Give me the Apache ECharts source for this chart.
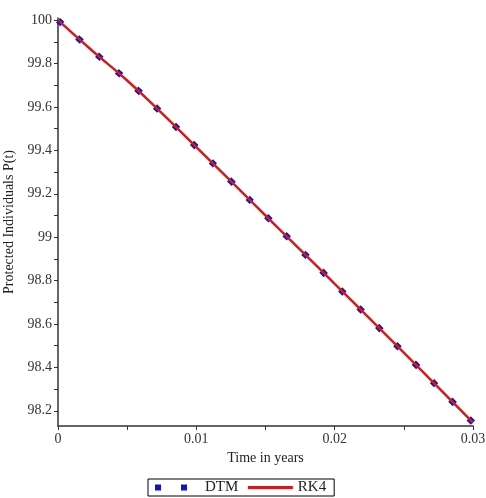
<!DOCTYPE html>
<html>
<head>
<meta charset="utf-8">
<script src="https://cdn.jsdelivr.net/npm/echarts@6/dist/echarts.min.js"></script>
<style>
  html, body { margin: 0; padding: 0; background: #fff; }
  #chart { width: 486px; height: 498px; }
</style>
</head>
<body>
<div id="chart"></div>
<script>
// time (years) and protected individuals P(t)
var times = [0, 0.0025, 0.005, 0.0075, 0.01, 0.0125, 0.015, 0.0175, 0.02, 0.0225, 0.025, 0.0275, 0.03];
var dtmValues = [100, 99.858, 99.722, 99.572, 99.415, 99.258, 99.100, 98.943, 98.785, 98.627, 98.468, 98.307, 98.145];
var rk4Values = [100, 99.858, 99.722, 99.572, 99.415, 99.258, 99.100, 98.943, 98.785, 98.627, 98.468, 98.307, 98.145];
var yLabelValues = [98.2, 98.4, 98.6, 98.8, 99, 99.2, 99.4, 99.6, 99.8, 100];
var yTickValues = [98.2, 98.3, 98.4, 98.5, 98.6, 98.7, 98.8, 98.9, 99, 99.1, 99.2, 99.3, 99.4, 99.5, 99.6, 99.7, 99.8, 99.9, 100];

function pairs(xs, ys) {
  var out = [];
  for (var i = 0; i < xs.length; i++) out.push([xs[i], ys[i]]);
  return out;
}

var font = 'Liberation Serif';

function makeOption() {
  var option = {
    animation: false,
    backgroundColor: '#fff',
    grid: { left: 58, right: 13, top: 18, bottom: 72, containLabel: false, outerBoundsMode: 'none' },
    legend: {
      left: 148,
      bottom: 2,
      borderColor: '#000',
      borderWidth: 1,
      padding: [1, 8, 1, 4],
      itemWidth: 45,
      itemHeight: 12,
      itemGap: 8,
      itemStyle: { opacity: 0 },
      textStyle: { fontFamily: font, fontSize: 15, color: '#222' },
      data: [
        { name: 'DTM', lineStyle: { width: 6, type: [6, 20], cap: 'butt' } },
        { name: 'RK4', lineStyle: { width: 3 } }
      ]
    },
    xAxis: {
      type: 'value',
      min: 0,
      max: 0.03,
      interval: 0.01,
      name: 'Time in years',
      nameLocation: 'middle',
      nameGap: 24,
      nameTextStyle: { fontFamily: font, fontSize: 14, color: '#222' },
      axisLine: { lineStyle: { color: '#333', width: 1.5 } },
      axisTick: { show: true, length: 4, lineStyle: { color: '#333' } },
      minorTick: { show: true, splitNumber: 2, length: 4, lineStyle: { color: '#333' } },
      splitLine: { show: false },
      axisLabel: {
        fontFamily: font, fontSize: 14, color: '#333', margin: 6,
        formatter: function (v) { return v === 0 ? '0' : String(+v.toFixed(2)); }
      }
    },
    yAxis: {
      type: 'value',
      min: 98.13,
      max: 100.01,
      name: 'Protected Individuals P(t)',
      nameLocation: 'middle',
      nameGap: 42,
      nameTextStyle: { fontFamily: font, fontSize: 14, color: '#222' },
      axisLine: { show: true, lineStyle: { color: '#333', width: 1.5 } },
      axisTick: { show: true, length: 4, customValues: yTickValues, lineStyle: { color: '#333' } },
      splitLine: { show: false },
      axisLabel: {
        fontFamily: font, fontSize: 14, color: '#333', margin: 6,
        customValues: yLabelValues,
        formatter: function (v) { return String(+v.toFixed(1)); }
      }
    },
    series: [
      {
        name: 'DTM',
        type: 'line',
        smooth: true,
        symbol: 'none',
        data: pairs(times, dtmValues),
        itemStyle: { color: '#1414b8' },
        lineStyle: { color: '#1414b8', width: 6, type: [6, 20], cap: 'butt' },
        z: 2
      },
      {
        name: 'RK4',
        type: 'line',
        smooth: true,
        symbol: 'none',
        data: pairs(times, rk4Values),
        itemStyle: { color: '#d01c1c' },
        lineStyle: { color: '#d01c1c', width: 2.5 },
        z: 3
      }
    ]
  };
  return option;
}

function setChart(id, option) {
  var myChart = echarts.init(document.getElementById(id));
  myChart.setOption(option);
}

setChart('chart', makeOption());
</script>
</body>
</html>
